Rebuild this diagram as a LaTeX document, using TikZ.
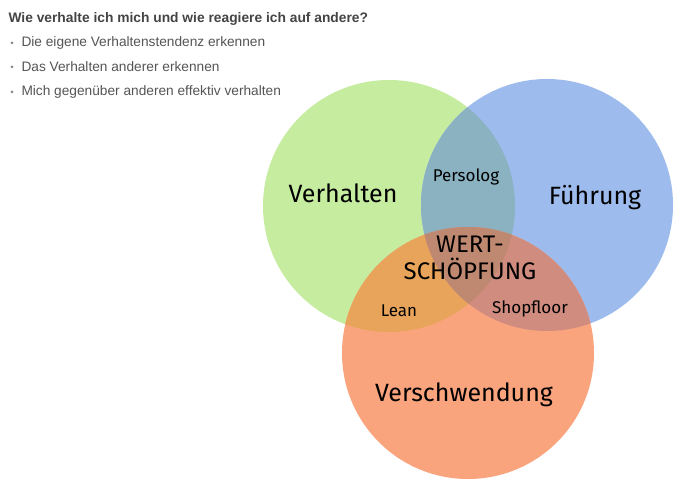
\documentclass[tikz,border=0pt]{standalone}
\usepackage{fontspec}
\setmainfont{Liberation Sans}
\newfontfamily\handfont{Fira Sans}
\usepackage{xcolor}
\definecolor{gruen}{HTML}{C6ECA0}
\definecolor{blau}{HTML}{9EBBED}
\definecolor{orange}{HTML}{FAA47E}
\definecolor{gruenblau}{HTML}{8AB2C1}
\definecolor{gruenorange}{HTML}{E7A45A}
\definecolor{blauorange}{HTML}{D08C7E}
\definecolor{mitte}{HTML}{BF8870}
\definecolor{kopfgrau}{HTML}{444444}
\definecolor{textgrau}{HTML}{555555}

\begin{document}
\begin{tikzpicture}[x=1pt,y=-1pt,
    label/.style={font=\handfont\fontsize{25}{27}\selectfont,text=black},
    smalllabel/.style={font=\handfont\fontsize{17}{19}\selectfont,text=black},
    bullet/.style={anchor=west,font=\fontsize{13.7}{15}\selectfont,text=textgrau}]
  \useasboundingbox[fill=white] (0,0) rectangle (680,486);
  \coordinate (G) at (389,206);
  \coordinate (B) at (547,205);
  \coordinate (O) at (468,353);
  \def\r{126}

  % single circles
  \fill[gruen] (G) circle (\r);
  \fill[blau] (B) circle (\r);
  \fill[orange] (O) circle (\r);

  % overlaps
  \begin{scope}
    \clip (G) circle (\r);
    \fill[gruenblau] (B) circle (\r);
    \fill[gruenorange] (O) circle (\r);
  \end{scope}
  \begin{scope}
    \clip (B) circle (\r);
    \fill[blauorange] (O) circle (\r);
    \clip (O) circle (\r);
    \fill[mitte] (G) circle (\r);
  \end{scope}

  % heading and bullets
  \node[anchor=west,font=\bfseries\fontsize{13.8}{15}\selectfont,text=kopfgrau]
    (titel) at (5,19) {Wie verhalte ich mich und wie reagiere ich auf andere?};
  \node[bullet] (p1) at (18,43) {Die eigene Verhaltenstendenz erkennen};
  \node[bullet] (p2) at (18,67) {Das Verhalten anderer erkennen};
  \node[bullet] (p3) at (18,92) {Mich gegenüber anderen effektiv verhalten};
  \foreach \y in {43,67,92}
    \fill[textgrau!70] (12,\y) circle (1.5);

  % labels
  \node[label] (verhalten) at (343,193) {Verhalten};
  \node[label] (fuehrung) at (595,198) {Führung};
  \node[label] (verschwendung) at (464,395) {Verschwendung};
  \node[smalllabel] (persolog) at (466,177) {Persolog};
  \node[smalllabel] (lean) at (399,311) {Lean};
  \node[smalllabel] (shopfloor) at (530,309) {Shopfloor};
  \node[label,align=center,font=\handfont\fontsize{24}{27}\selectfont]
    (wert) at (470,258) {WERT-\\SCHÖPFUNG};
\end{tikzpicture}
\end{document}
